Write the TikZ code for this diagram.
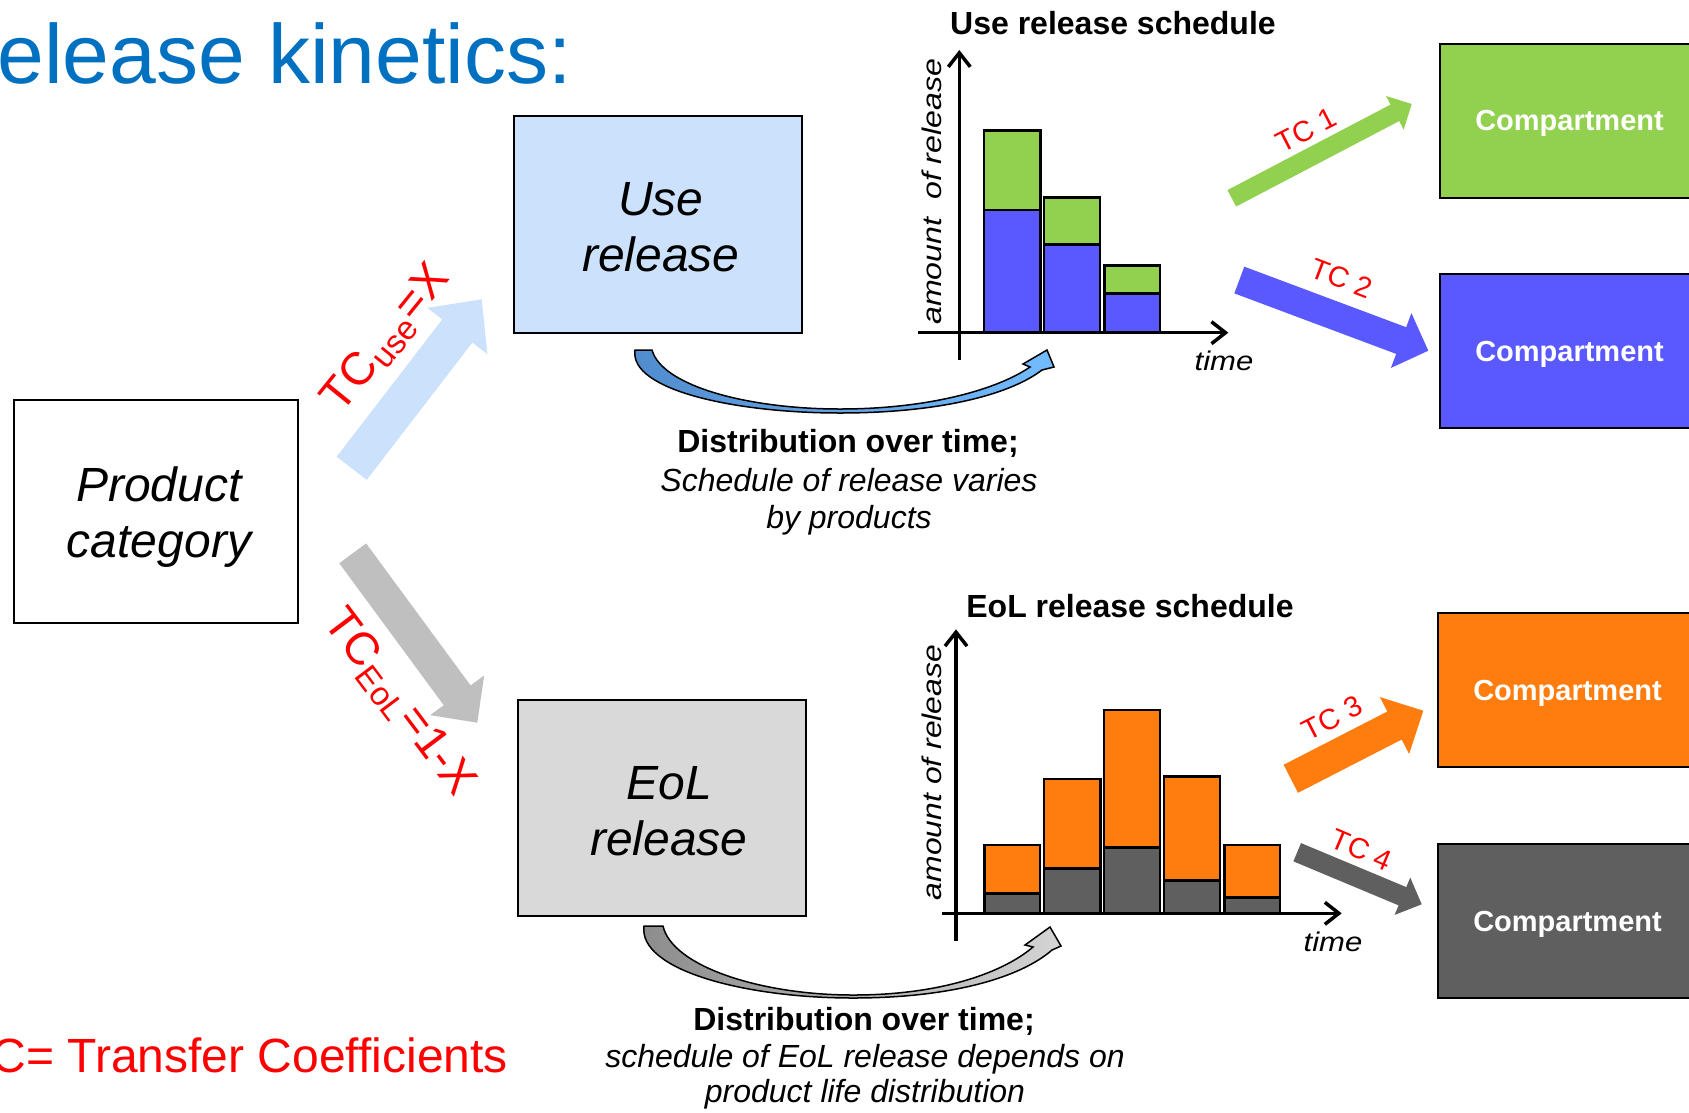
\documentclass[tikz,border=0pt]{standalone}
\usepackage{fontspec}
\setmainfont{Liberation Sans}
\usetikzlibrary{calc,arrows.meta}
\definecolor{titleblue}{RGB}{0,112,192}
\definecolor{boxblue}{RGB}{204,226,252}
\definecolor{boxgray}{RGB}{217,217,217}
\definecolor{arrowgray}{RGB}{191,191,191}
\definecolor{cgreen}{RGB}{146,208,80}
\definecolor{cblue}{RGB}{89,89,255}
\definecolor{corange}{RGB}{255,124,14}
\definecolor{cdark}{RGB}{95,95,95}
\definecolor{curveL}{RGB}{80,140,205}
\definecolor{curveR}{RGB}{115,188,255}
\definecolor{grayL}{RGB}{140,140,140}
\definecolor{grayR}{RGB}{212,212,212}
\newcommand\fatarrow[6]{%
  \coordinate (fabase) at ($(#2)!#5!(#1)$);
  \fill[#6] ($(#1)!#3!90:(#2)$) -- ($(fabase)!#3!90:(#2)$) -- ($(fabase)!#4!90:(#2)$) -- (#2)
    -- ($(fabase)!#4!-90:(#2)$) -- ($(fabase)!#3!-90:(#2)$) -- ($(#1)!#3!-90:(#2)$) -- cycle;
}
\tikzset{
  boxframe/.style={draw=black, line width=2pt, inner sep=0pt},
  boxtext/.style={inner sep=0pt, align=center, font=\fontsize{48}{56}\selectfont\itshape},
  comp/.style={draw=black, line width=2pt, minimum width=259pt, minimum height=154pt,
    font=\fontsize{29}{34}\selectfont\bfseries, text=white, inner sep=0pt, text depth=0pt},
  axisline/.style={line width=3.5pt, -{Straight Barb[length=14pt,width=22pt]}},
  barbox/.style={draw=black, line width=2.5pt},
  tclab/.style={text=red, font=\fontsize{29}{29}\selectfont, inner sep=0pt},
  axlab/.style={font=\fontsize{27}{27}\selectfont\itshape, inner sep=0pt, anchor=base},
  headlab/.style={font=\fontsize{32}{32}\selectfont\bfseries, inner sep=0pt, anchor=base},
  distb/.style={font=\fontsize{32}{32}\selectfont\bfseries, inner sep=0pt, anchor=base},
  disti/.style={font=\fontsize{32}{32}\selectfont\itshape, inner sep=0pt, anchor=base},
}
\begin{document}
\begin{tikzpicture}[x=1pt,y=-1pt]
\useasboundingbox (0,0) rectangle (1689,1112);
\begin{scope}
\clip (0,0) rectangle (1689,1112);

% title and footnote
\node[anchor=base east, inner sep=0pt, text=titleblue, font=\fontsize{84}{84}\selectfont] (title) at (572,83) {Release kinetics:};
\node[anchor=base west, inner sep=0pt, text=red, font=\fontsize{48}{48}\selectfont] (foot) at (-38,1072) {TC= Transfer Coefficients};

% main boxes
\node[boxframe, minimum width=284pt, minimum height=223pt] (prod) at (156,511.5) {};
\node[boxtext] (prodtxt) at ($(prod.center)+(3,6)$) {Product\\category};
\node[boxframe, fill=boxblue, minimum width=288pt, minimum height=217pt] (use) at (658,224.5) {};
\node[boxtext] (usetxt) at ($(use.center)+(3,3)$) {Use\\release};
\node[boxframe, fill=boxgray, minimum width=288pt, minimum height=216pt] (eol) at (662,808) {};
\node[boxtext] (eoltxt) at ($(eol.center)+(7,3)$) {EoL\\release};

% big arrows from product category
\coordinate (uT) at (351.7,468.3); \coordinate (uH) at (481.7,299.3);
\fatarrow{uT}{uH}{19pt}{38pt}{40pt}{boxblue}
\coordinate (eT) at (352.7,553.3); \coordinate (eH) at (477.3,722.7);
\fatarrow{eT}{eH}{16.7pt}{33.5pt}{34pt}{arrowgray}
\node[text=red, inner sep=0pt, rotate=51, font=\fontsize{46}{46}\selectfont] (tcuse) at (387,339)
  {TC\kern1pt\raisebox{-8pt}{\fontsize{33}{33}\selectfont use}\kern1pt=X};
\node[text=red, inner sep=0pt, rotate=-53, font=\fontsize{46}{46}\selectfont] (tceol) at (398.5,703)
  {TC\kern1pt\raisebox{-8pt}{\fontsize{33}{33}\selectfont EoL}\kern1pt=1-X};

% curved arrows
\shade[left color=curveL, right color=curveR, draw=black, line width=1.5pt]
  (635,350) .. controls (629,390) and (735,413) .. (840,413)
  .. controls (935,413) and (1008,396) .. (1042,370)
  -- (1054,367) -- (1047,350) -- (1023,364) -- (1030,367)
  .. controls (998,389) and (930,409) .. (840,409)
  .. controls (748,409) and (662,386) .. (652,350) -- cycle;
\shade[left color=grayL, right color=grayR, draw=black, line width=1.5pt]
  (644,926) .. controls (638,970) and (745,998) .. (853,998)
  .. controls (950,998) and (1020,978) .. (1052,950)
  -- (1061,946) -- (1050,927) -- (1025,945) -- (1033,947)
  .. controls (1005,971) and (945,995) .. (853,995)
  .. controls (760,995) and (672,966) .. (663,926) -- cycle;

% distribution texts
\node[distb] (d1a) at (848,452) {Distribution over time;};
\node[disti] (d1b) at (849,491) {Schedule of release varies};
\node[disti] (d1c) at (849,528) {by products};
\node[distb] (d2a) at (864,1030) {Distribution over time;};
\node[disti] (d2b) at (865,1067) {schedule of EoL release depends on};
\node[disti] (d2c) at (865,1102) {product life distribution};

% use release chart
\node[headlab] (uhead) at (1113,34) {Use release schedule};
\fill[cblue] (984,210) rectangle (1040.5,332.7);
\fill[cgreen] (984,130.3) rectangle (1040.5,210);
\draw[barbox] (984,210) rectangle (1040.5,332.7);
\draw[barbox] (984,130.3) rectangle (1040.5,210);
\fill[cblue] (1044,244.3) rectangle (1100,332.7);
\fill[cgreen] (1044,197.7) rectangle (1100,244.3);
\draw[barbox] (1044,244.3) rectangle (1100,332.7);
\draw[barbox] (1044,197.7) rectangle (1100,244.3);
\fill[cblue] (1104.3,293.3) rectangle (1160,332.7);
\fill[cgreen] (1104.3,265.7) rectangle (1160,293.3);
\draw[barbox] (1104.3,293.3) rectangle (1160,332.7);
\draw[barbox] (1104.3,265.7) rectangle (1160,293.3);
\coordinate (uy0) at (959.3,360); \coordinate (uy1) at (959.3,50);
\coordinate (ux0) at (918.3,332.7); \coordinate (ux1) at (1228.3,332.7);
\draw[axisline] (uy0) -- (uy1);
\draw[axisline] (ux0) -- (ux1);
\node[axlab, rotate=90] (uylab) at (941.7,191.7) {\scalebox{1.19}[1]{amount\ \ of release}};
\node[axlab] (uxlab) at (1224,370) {\scalebox{1.15}[1]{time}};

% EoL chart
\node[headlab] (ehead) at (1130,617) {EoL release schedule};
\foreach \xa/\xb/\yt/\ym in {984.3/1040/845/893.3, 1044/1100.7/779/868.7, 1104/1160/710/847.3, 1164/1220/776.7/880.7, 1224.3/1280/845/897.3}{
  \fill[cdark] (\xa,\ym) rectangle (\xb,913.3);
  \fill[corange] (\xa,\yt) rectangle (\xb,\ym);
  \draw[barbox] (\xa,\ym) rectangle (\xb,913.3);
  \draw[barbox] (\xa,\yt) rectangle (\xb,\ym);
}
\coordinate (ey0) at (956,940.7); \coordinate (ey1) at (956,629.3);
\coordinate (ex0) at (941.7,913.3); \coordinate (ex1) at (1341.7,913.3);
\draw[axisline] (ey0) -- (ey1);
\draw[axisline] (ex0) -- (ex1);
\node[axlab, rotate=90] (eylab) at (941.7,772.5) {\scalebox{1.18}[1]{amount of release}};
\node[axlab] (exlab) at (1333,951.7) {\scalebox{1.15}[1]{time}};

% compartments
\node[comp, fill=cgreen] (c1) at (1569.5,120.6) {Compartment};
\node[comp, fill=cblue] (c2) at (1569.5,351) {Compartment};
\node[comp, fill=corange] (c3) at (1567.5,690) {Compartment};
\node[comp, fill=cdark] (c4) at (1567.5,921) {Compartment};

% compartment arrows
\coordinate (a1T) at (1231.8,198.3); \coordinate (a1H) at (1411.7,104);
\fatarrow{a1T}{a1H}{9.3pt}{19pt}{19pt}{cgreen}
\coordinate (a2T) at (1239.3,280); \coordinate (a2H) at (1428.3,350.7);
\fatarrow{a2T}{a2H}{14.25pt}{29.3pt}{29pt}{cblue}
\coordinate (a3T) at (1290.8,778.8); \coordinate (a3H) at (1423.3,710.7);
\fatarrow{a3T}{a3H}{15.75pt}{32pt}{32.4pt}{corange}
\coordinate (a4T) at (1297.2,852.2); \coordinate (a4H) at (1421.7,904.3);
\fatarrow{a4T}{a4H}{9.9pt}{20.25pt}{20.9pt}{cdark}
\node[tclab, rotate=27] (tc1) at (1306,130) {TC 1};
\node[tclab, rotate=-21] (tc2) at (1341.7,278.3) {TC 2};
\node[tclab, rotate=27] (tc3) at (1332,718) {TC 3};
\node[tclab, rotate=-23] (tc4) at (1361.7,850) {TC 4};
\end{scope}
\end{tikzpicture}
\end{document}
